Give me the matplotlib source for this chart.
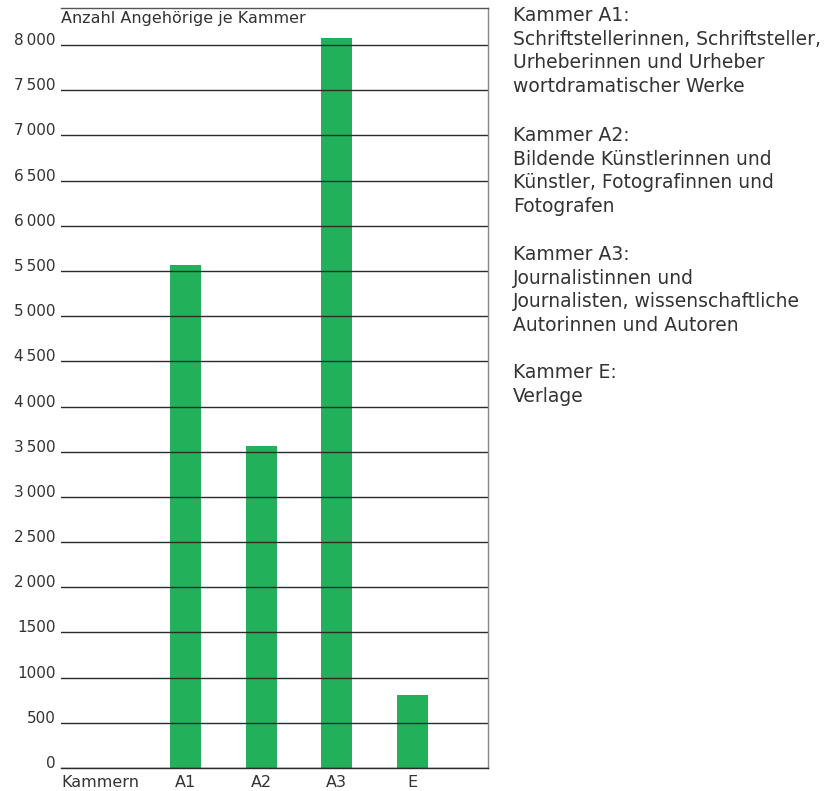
import matplotlib.pyplot as plt

plt.rcParams["font.family"] = ["DejaVu Sans"]

# Daten
kammern = ["A1", "A2", "A3", "E"]
angehoerige = [5570, 3560, 8080, 810]
y_ticks = [0, 500, 1000, 1500, 2000, 2500, 3000, 3500, 4000,
           4500, 5000, 5500, 6000, 6500, 7000, 7500, 8000]
y_labels = ["0", "500", "1000", "1500", "2\u2009000", "2\u2009500", "3\u2009000",
            "3\u2009500", "4\u2009000", "4\u2009500", "5\u2009000", "5\u2009500",
            "6\u2009000", "6\u2009500", "7\u2009000", "7\u2009500", "8\u2009000"]
erklaerungen = [
    "Kammer A1:\nSchriftstellerinnen, Schriftsteller,\nUrheberinnen und Urheber\nwortdramatischer Werke",
    "Kammer A2:\nBildende Künstlerinnen und\nKünstler, Fotografinnen und\nFotografen",
    "Kammer A3:\nJournalistinnen und\nJournalisten, wissenschaftliche\nAutorinnen und Autoren",
    "Kammer E:\nVerlage",
]

gruen = "#22b15a"
text_col = "#333333"

fig = plt.figure(figsize=(8.29, 7.91), dpi=100)
ax = fig.add_axes([61 / 829, 23 / 791, 427 / 829, 760 / 791])

x = list(range(1, len(kammern) + 1))
ax.bar(x, angehoerige, width=0.41, color=gruen, zorder=1)

ax.set_xlim(-0.645, 5.0)
ax.set_ylim(0, 8410)

# Gitterlinien
for t in y_ticks:
    ax.axhline(t, color="#2b2b2b", lw=1.0, zorder=2)

ax.set_yticks(y_ticks)
ax.set_yticklabels(y_labels, fontsize=11, color=text_col)
for lab in ax.get_yticklabels():
    lab.set_va("baseline")
ax.tick_params(axis="y", length=0, pad=4)

ax.set_xticks(x)
ax.set_xticklabels(kammern, fontsize=11.5, color=text_col)
ax.tick_params(axis="x", length=0, pad=5)

ax.annotate("Kammern", xy=(0, 0), xycoords="axes fraction", xytext=(0, -5),
            textcoords="offset points", ha="left", va="top",
            fontsize=11.5, color=text_col)

ax.text(0.0, 0.996, "Anzahl Angehörige je Kammer", transform=ax.transAxes,
        ha="left", va="top", fontsize=11.5, color=text_col)

ax.spines["left"].set_visible(False)
ax.spines["top"].set_color("#555555")
ax.spines["right"].set_color("#888888")
ax.spines["bottom"].set_color("#2b2b2b")
for s in ax.spines.values():
    s.set_linewidth(1.0)

# Erklärungen rechts
y_pos = [791 - 6, 791 - 126, 791 - 245, 791 - 363]
for txt, yp in zip(erklaerungen, y_pos):
    fig.text(513 / 829, yp / 791, txt, ha="left", va="top", fontsize=13.5,
             color=text_col, linespacing=1.31)

fig.savefig("out.png", dpi=100)
